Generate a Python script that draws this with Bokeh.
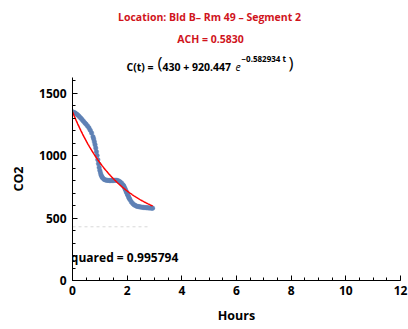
import numpy as np
from bokeh.plotting import figure
from bokeh.layouts import column
from bokeh.models import Range1d, SingleIntervalTicker
from bokeh.core.properties import value
from bokeh.embed import file_html
from bokeh.resources import INLINE

# ---- data ----
hours = [0.00, 0.05, 0.10, 0.15, 0.20, 0.25, 0.30, 0.35, 0.40, 0.45, 0.50, 0.55,
         0.60, 0.65, 0.70, 0.75, 0.775, 0.80, 0.825, 0.85, 0.875, 0.90, 0.925,
         0.95, 0.975, 1.00, 1.025, 1.05, 1.075, 1.10, 1.15, 1.20, 1.25, 1.30,
         1.35, 1.40, 1.45, 1.50, 1.55, 1.60, 1.65, 1.70, 1.75, 1.80, 1.85,
         1.875, 1.90, 1.925, 1.95, 1.975, 2.00, 2.025, 2.05, 2.075, 2.10, 2.15,
         2.20, 2.25, 2.30, 2.35, 2.40, 2.45, 2.50, 2.55, 2.60, 2.65, 2.70, 2.75,
         2.80, 2.85, 2.90, 2.93]
co2 = [1350, 1345, 1340, 1332, 1323, 1312, 1300, 1288, 1275, 1262, 1250, 1237,
       1222, 1203, 1180, 1150, 1132, 1110, 1087, 1060, 1031, 1000, 967,
       935, 905, 880, 860, 843, 830, 822, 810, 805, 803, 801,
       800, 800, 800, 801, 802, 802, 800, 795, 788, 778, 765,
       756, 745, 733, 720, 707, 695, 682, 670, 658, 648, 630,
       617, 607, 600, 595, 592, 590, 588, 586, 585, 584, 583, 582,
       581, 580, 580, 579]

# fit parameters shown in the chart: C(t) = C_inf + A * exp(-k t)
c_inf = 430
amp = 920.447
rate = 0.582934
ach = "0.5830"
r_squared = "0.995794"
location = "Location: Bld B\u2013 Rm 49 \u2013 Segment 2"

t_fit = np.linspace(0, max(hours), 200)
c_fit = c_inf + amp * np.exp(-rate * t_fit)

FONT = "Open Sans"
RED = "#D0141C"
W = 408
LEFT, RIGHT = 72, 8
HEAD = 77

# ---- header (titles); its frame is aligned with the plot frame ----
hdr = figure(width=W, height=HEAD, output_backend="svg", toolbar_location=None,
             x_range=Range1d(LEFT, W - RIGHT), y_range=Range1d(HEAD, 0),
             x_axis_location=None, y_axis_location=None,
             min_border_left=LEFT, min_border_right=RIGHT,
             min_border_top=0, min_border_bottom=0)
hdr.outline_line_color = None
hdr.grid.visible = False

def htext(x, y, txt, size, color="black", style="bold", align="left",
          baseline="alphabetic"):
    hdr.text(x=[x], y=[y], text=[txt], text_font=value(FONT), text_font_style=style,
             text_font_size=size, text_color=color, text_align=align,
             text_baseline=baseline)

htext(209, 16, location, "10.5px", RED, align="center")
htext(210, 38.5, "ACH = " + ach, "10.5px", RED, align="center")
htext(126, 66.7, "C(t) =", "10.5px")
htext(157, 61.5, "(", "17px", style="normal", baseline="middle")
htext(162, 66.7, f"{c_inf} + {amp}", "10.5px")
htext(235, 66.7, "e", "10.5px", style="italic")
htext(241, 58.3, f"\u2212{rate} t", "8px")
htext(288, 61.5, ")", "17px", style="normal", baseline="middle")

# ---- main plot ----
p = figure(width=W, height=329 - HEAD, output_backend="svg", toolbar_location=None,
           x_range=Range1d(0, 12), y_range=Range1d(0, 1625),
           min_border_left=LEFT, min_border_right=RIGHT, min_border_top=0,
           min_border_bottom=49)
p.outline_line_color = None
p.grid.visible = False

# asymptote
p.line([0, 2.8], [c_inf, c_inf], line_color="#D8D8D8", line_width=1, line_dash="3 3")
# data points
p.scatter(hours, co2, size=4.5, fill_color="#5E81B5", line_color="#5E81B5",
          line_width=0.5)
# fit
p.line(t_fit, c_fit, line_color="#FF0000", line_width=1.5)
# R-squared text (clipped at frame left as in the original)
p.text(x=[3.87], y=[185], text=["R-squared = " + r_squared], text_align="right",
       text_baseline="middle", text_font=value(FONT), text_font_style="bold",
       text_font_size="12px", text_color="black")

for ax in (p.xaxis[0], p.yaxis[0]):
    ax.axis_line_color = "black"
    ax.axis_line_width = 1
    ax.major_tick_in = 5
    ax.major_tick_out = 0
    ax.minor_tick_in = 3
    ax.minor_tick_out = 0
    ax.major_tick_line_color = "black"
    ax.minor_tick_line_color = "black"
    ax.major_label_text_font = FONT
    ax.major_label_text_font_style = "bold"
    ax.major_label_text_font_size = "12px"
    ax.major_label_text_color = "black"
    ax.axis_label_text_font = FONT
    ax.axis_label_text_font_style = "bold"
    ax.axis_label_text_font_size = "12.5px"
    ax.axis_label_text_color = "black"

p.xaxis.ticker = SingleIntervalTicker(interval=2, num_minor_ticks=4)
p.yaxis.ticker = SingleIntervalTicker(interval=500, num_minor_ticks=5)
p.xaxis.major_label_standoff = 5
p.yaxis.major_label_standoff = 6
p.xaxis.axis_label = "Hours"
p.yaxis.axis_label = "CO2"
p.xaxis.axis_label_standoff = 9
p.yaxis.axis_label_standoff = 9

open("out.html", "w").write(file_html(column(hdr, p, spacing=0), INLINE))
